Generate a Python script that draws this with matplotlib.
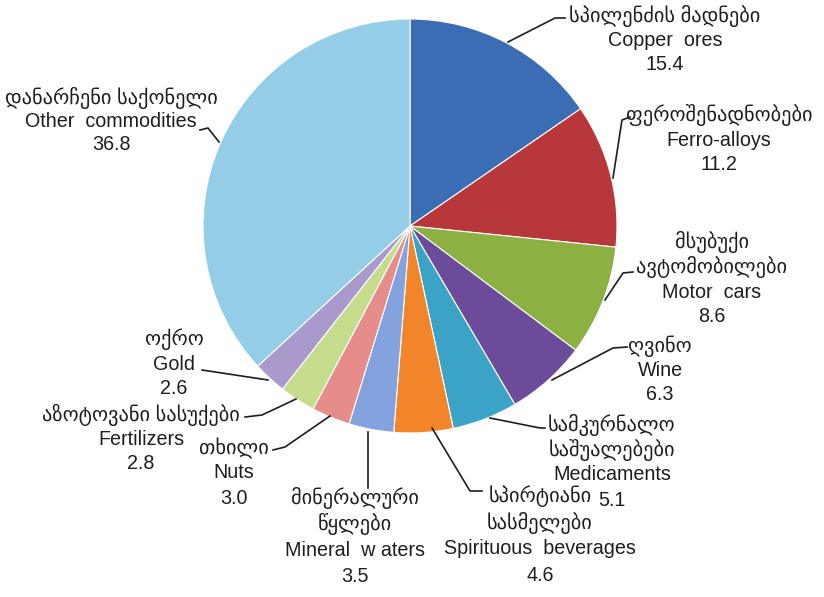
import matplotlib
matplotlib.use("Agg")
import matplotlib.pyplot as plt

plt.rcParams['font.family'] = ['Liberation Sans', 'DejaVu Sans']

labels_ka = ["სპილენძის მადნები", "ფეროშენადნობები", "მსუბუქი\nავტომობილები", "ღვინო",
             "სამკურნალო\nსაშუალებები", "სპირტიანი\nსასმელები", "მინერალური\nწყლები",
             "თხილი", "აზოტოვანი სასუქები", "ოქრო", "დანარჩენი საქონელი"]
labels_en = ["Copper  ores", "Ferro-alloys", "Motor  cars", "Wine", "Medicaments",
             "Spirituous  beverages", "Mineral  w aters", "Nuts", "Fertilizers", "Gold",
             "Other  commodities"]
values = [15.4, 11.2, 8.6, 6.3, 5.1, 4.6, 3.5, 3.0, 2.8, 2.6, 36.8]
colors = ["#3B6DB4", "#B7373A", "#8DB043", "#6C4B9B", "#3AA3C6", "#F2852A",
          "#84A3DE", "#E68C8B", "#C5DC8D", "#A99ACB", "#93CDE8"]

W, H = 824, 597
fig = plt.figure(figsize=(W / 100, H / 100), dpi=100)
ax = fig.add_axes([0, 0, 1, 1])

def P(x, y):
    return (x, H - y)

ax.pie(values, colors=colors, startangle=90, counterclock=False,
       center=P(410, 226), radius=207,
       wedgeprops=dict(edgecolor='white', linewidth=0.8))
ax.set_xlim(0, W)
ax.set_ylim(0, H)
ax.set_aspect('equal')
ax.axis('off')

# label block: center x, y of first line, step
blocks = [
    (665, 16, 24.5),
    (719, 115, 25),
    (712, 242, 25),
    (660, 346, 24),
    (612, 425, 25),
    (540, 496, 26.5),
    (355, 498, 26.3),
    (234, 448, 25),
    (141, 415, 24.3),
    (174, 339, 25),
    (111, 98, 23.5),
]
leaders = [
    [(508, 42), (555, 18), (565, 18)],
    [(613, 178), (622, 120), (630, 117)],
    [(605, 300), (623, 273), (633, 272)],
    [(552, 380), (613, 348), (627, 347)],
    [(490, 418), (540, 428), (545, 428)],
    [(432, 428), (470, 491), (482, 491)],
    [(368, 432), (368, 488)],
    [(330, 416), (285, 447), (273, 450)],
    [(296, 399), (262, 415), (245, 417)],
    [(268, 380), (202, 370)],
    [(219, 142), (208, 128), (200, 130)],
]

fs_en = 14.2
fs_ka = 14.7
for i in range(len(values)):
    cx, y0, step = blocks[i]
    ka = labels_ka[i].split("\n")
    lines = [(s, fs_ka) for s in ka] + [(labels_en[i], fs_en), (f"{values[i]:.1f}", fs_en)]
    for j, (ln, f) in enumerate(lines):
        ax.text(*P(cx, y0 + j * step), ln, ha='center', va='center',
                fontsize=f, color='#1e1e1e')
    pts = [P(x, y) for x, y in leaders[i]]
    ax.plot([p[0] for p in pts], [p[1] for p in pts], color='#1e1e1e', lw=1.2)

fig.savefig("out.png", dpi=100)
